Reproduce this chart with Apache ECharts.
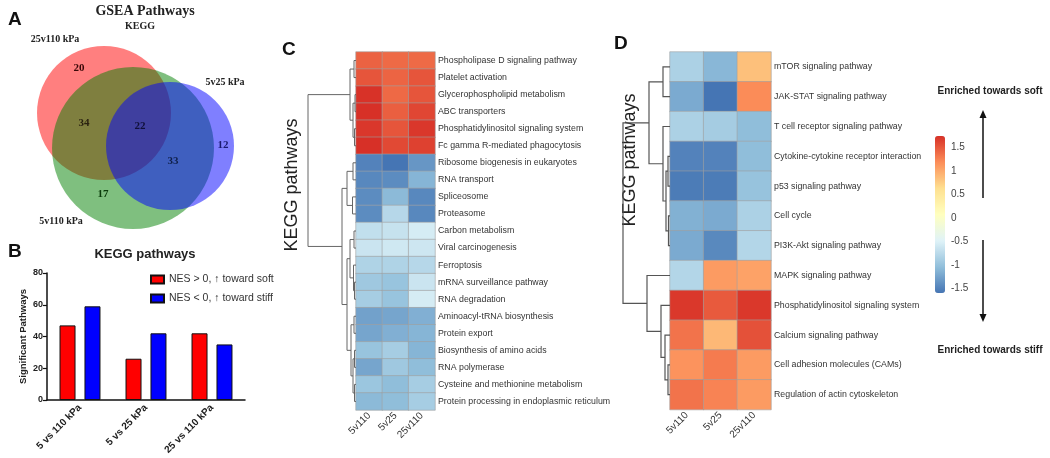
<!DOCTYPE html>
<html><head><meta charset="utf-8">
<script src="https://cdn.jsdelivr.net/npm/echarts@6/dist/echarts.min.js"></script>
<style>html,body{margin:0;padding:0;background:#fff}#c{width:1050px;height:458px}</style>
</head><body><div id="c"></div>
<script>
// ---------- Panel A: Venn (GSEA KEGG pathways) ----------
const vennSetNames = ['25v110 kPa', '5v110 kPa', '5v25 kPa'];
const vennRegionCounts = [20, 34, 22, 12, 33, 17];
// layout of the Venn plane (abstract units of a hidden cartesian plane)
const vennCircleLayout = [[104, 113, 67], [133, 148, 81], [170, 146, 64]];
const vennCountLayout = [[79, 68], [84, 123], [140, 126], [223, 145], [173, 161], [103, 194]];
const vennSetLabelLayout = [[55, 39], [61, 221], [225, 82]];

// ---------- Panel B: bar chart ----------
const barCategories = ['5 vs 110 kPa', '5 vs 25 kPa', '25 vs 110 kPa'];
const nesPositive = [47, 26, 42];
const nesNegative = [59, 42, 35];
const barSeriesNames = ['NES > 0, \u2191 toward soft', 'NES < 0, \u2191 toward stiff'];

// ---------- Panel C: heatmap ----------
const cCols = ['5v110', '5v25', '25v110'];
const cRows = ['Phospholipase D signaling pathway', 'Platelet activation', 'Glycerophospholipid metabolism',
  'ABC transporters', 'Phosphatidylinositol signaling system', 'Fc gamma R-mediated phagocytosis',
  'Ribosome biogenesis in eukaryotes', 'RNA transport', 'Spliceosome', 'Proteasome', 'Carbon metabolism',
  'Viral carcinogenesis', 'Ferroptosis', 'mRNA surveillance pathway', 'RNA degradation',
  'Aminoacyl-tRNA biosynthesis', 'Protein export', 'Biosynthesis of amino acids', 'RNA polymerase',
  'Cysteine and methionine metabolism', 'Protein processing in endoplasmic reticulum'];
const cVal5v110 = [1.45, 1.53, 1.74, 1.75, 1.71, 1.75, -1.5, -1.46, -1.43, -1.43, -0.7, -0.64, -0.83, -0.94, -0.89, -1.27, -1.24, -0.99, -1.24, -0.97, -1.08];
const cVal5v25 = [1.4, 1.44, 1.41, 1.47, 1.53, 1.6, -1.6, -1.43, -1.08, -0.78, -0.67, -0.6, -0.83, -0.99, -0.99, -1.24, -1.16, -0.89, -0.94, -1.05, -1.05];
const cVal25v110 = [1.4, 1.53, 1.53, 1.62, 1.71, 1.65, -1.35, -1.12, -1.46, -1.46, -0.56, -0.62, -0.78, -0.64, -0.56, -1.16, -1.12, -1.12, -1.05, -0.89, -0.89];
// dendrogram merges [nodeA, nodeB, height]; leaves 0..n-1, new nodes n, n+1, ...
const cMerges = [[0, 1, 2], [2, 3, 1], [4, 5, 1.5], [22, 23, 3], [21, 24, 6],
  [6, 7, 3], [8, 9, 3.5], [26, 27, 9],
  [10, 11, 2], [13, 14, 1.5], [12, 30, 2.5], [29, 31, 6],
  [15, 16, 2], [17, 18, 1.5], [19, 20, 1.5], [34, 35, 3], [33, 36, 5], [32, 37, 9],
  [28, 38, 14], [25, 39, 48]];

// ---------- Panel D: heatmap ----------
const dCols = ['5v110', '5v25', '25v110'];
const dRows = ['mTOR signaling pathway', 'JAK-STAT signaling pathway', 'T cell receptor signaling pathway',
  'Cytokine-cytokine receptor interaction', 'p53 signaling pathway', 'Cell cycle', 'PI3K-Akt signaling pathway',
  'MAPK signaling pathway', 'Phosphatidylinositol signaling system', 'Calcium signaling pathway',
  'Cell adhesion molecules (CAMs)', 'Regulation of actin cytoskeleton'];
const dVal5v110 = [-0.85, -1.2, -0.85, -1.5, -1.55, -1.15, -1.2, -0.8, 1.7, 1.35, 1.15, 1.35];
const dVal5v25 = [-1.1, -1.6, -0.9, -1.5, -1.55, -1.2, -1.45, 1.1, 1.5, 0.9, 1.3, 1.25];
const dVal25v110 = [0.85, 1.2, -1.05, -1.05, -1.0, -0.85, -0.8, 1.05, 1.7, 1.55, 1.1, 1.1];
const dMerges = [[0, 1, 7], [3, 4, 2], [5, 6, 1.5], [13, 14, 4], [2, 15, 7], [12, 16, 21],
  [10, 11, 2], [9, 18, 5], [8, 19, 9], [7, 20, 23], [17, 21, 47]];
const colorbarTicks = [-1.5, -1, -0.5, 0, 0.5, 1, 1.5];
const scaleMin = -1.6, scaleMax = 1.75;
const palette = ['#4575B4', '#91BFDB', '#E0F3F8', '#FFFFBF', '#FEE090', '#FC8D59', '#D73027'];

// ---------- helpers ----------
const SANS = 'Liberation Sans, Arial, sans-serif';
const SERIF = 'Liberation Serif, Times New Roman, serif';
function heatData(cols) {
  const out = [];
  cols.forEach((col, ci) => col.forEach((v, ri) => out.push([ci, ri, v])));
  return out;
}
function dendroSegments(n, merges) {
  const pos = [], hts = [];
  for (let i = 0; i < n; i++) { pos.push(i + 0.5); hts.push(0); }
  return merges.map(([a, b, h]) => {
    const seg = [hts[a], pos[a], hts[b], pos[b], h];
    pos.push((pos[a] + pos[b]) / 2); hts.push(h);
    return seg;
  });
}
function dendroRender(color, width) {
  return function (params, api) {
    const hL = api.value(0), yL = api.value(1), hR = api.value(2), yR = api.value(3), h = api.value(4);
    const pts = [[hL, yL], [h, yL], [h, yR], [hR, yR]].map(q => api.coord(q));
    return { type: 'polyline', shape: { points: pts }, style: { stroke: color, lineWidth: width, fill: 'none' } };
  };
}

const chart = echarts.init(document.getElementById('c'), null, { renderer: 'canvas' });
const vennColors = ['#ff0000', '#008000', '#0000ff'];
const vennCountColors = ['#3a0808', '#2a2210', '#10103a', '#1a1a70', '#10204a', '#0a3a0a'];

const option = {
  backgroundColor: '#fff',
  animation: false,
  grid: [
    { left: 0, top: 0, width: 260, height: 240 },          // 0 venn plane
    { left: 47, top: 273, width: 198, height: 127 },       // 1 bars
    { left: 356, top: 52, width: 79, height: 358 },        // 2 heat C
    { left: 308, top: 52, width: 48, height: 358 },        // 3 dendro C
    { left: 670, top: 52, width: 101, height: 357.6 },     // 4 heat D
    { left: 623, top: 52, width: 47, height: 357.6 },      // 5 dendro D
    { left: 935, top: 136, width: 10, height: 157 }        // 6 colorbar axis
  ],
  xAxis: [
    { gridIndex: 0, type: 'value', min: 0, max: 260, show: false },
    { gridIndex: 1, type: 'category', data: barCategories,
      axisLine: { lineStyle: { color: '#111', width: 1.5 } },
      axisTick: { alignWithLabel: true, length: 4, lineStyle: { color: '#111', width: 1.2 } },
      axisLabel: { rotate: 45, interval: 0, fontFamily: SANS, fontWeight: 'bold', fontSize: 10, color: '#222', margin: 6 } },
    { gridIndex: 2, type: 'category', data: cCols, axisLine: { show: false }, axisTick: { show: false },
      axisLabel: { rotate: 45, fontFamily: SANS, fontSize: 10, color: '#333', margin: 4 } },
    { gridIndex: 3, type: 'value', min: 0, max: 48, inverse: true, show: false },
    { gridIndex: 4, type: 'category', data: dCols, axisLine: { show: false }, axisTick: { show: false },
      axisLabel: { rotate: 45, fontFamily: SANS, fontSize: 10, color: '#333', margin: 4 } },
    { gridIndex: 5, type: 'value', min: 0, max: 47, inverse: true, show: false },
    { gridIndex: 6, type: 'value', min: 0, max: 1, show: false }
  ],
  yAxis: [
    { gridIndex: 0, type: 'value', min: 0, max: 240, inverse: true, show: false },
    { gridIndex: 1, type: 'value', min: 0, max: 80, interval: 20,
      axisLine: { show: true, lineStyle: { color: '#111', width: 1.5 } },
      axisTick: { show: true, length: 4, lineStyle: { color: '#111', width: 1.2 } },
      splitLine: { show: false },
      axisLabel: { fontFamily: SANS, fontWeight: 'bold', fontSize: 9, color: '#222', margin: 4 },
      name: 'Significant Pathways', nameLocation: 'middle', nameGap: 19,
      nameTextStyle: { fontFamily: SANS, fontWeight: 'bold', fontSize: 9.5, color: '#222' } },
    { gridIndex: 2, type: 'category', data: cRows, inverse: true, position: 'right',
      axisLine: { show: false }, axisTick: { show: false },
      axisLabel: { fontFamily: SANS, fontSize: 8.8, color: '#333', margin: 3 } },
    { gridIndex: 3, type: 'value', min: 0, max: 21, inverse: true, show: false },
    { gridIndex: 4, type: 'category', data: dRows, inverse: true, position: 'right',
      axisLine: { show: false }, axisTick: { show: false },
      axisLabel: { fontFamily: SANS, fontSize: 8.8, color: '#333', margin: 3 } },
    { gridIndex: 5, type: 'value', min: 0, max: 12, inverse: true, show: false },
    { gridIndex: 6, type: 'value', min: scaleMin, max: scaleMax, position: 'right',
      axisLine: { show: false }, axisTick: { show: false }, splitLine: { show: false },
      axisLabel: { customValues: colorbarTicks, fontFamily: SANS, fontSize: 10, color: '#444', margin: 6 } }
  ],
  visualMap: [
    { type: 'continuous', seriesIndex: 4, show: false, min: scaleMin, max: scaleMax, inRange: { color: palette } },
    { type: 'continuous', seriesIndex: 6, show: true, min: scaleMin, max: scaleMax, inRange: { color: palette },
      left: 935, top: 136, itemWidth: 10, itemHeight: 157, padding: 0, calculable: false, hoverLink: false,
      text: null, showLabel: false }
  ],
  legend: {
    data: barSeriesNames, orient: 'vertical', left: 150, top: 274, itemWidth: 13, itemHeight: 8, itemGap: 8,
    icon: 'rect', textStyle: { fontFamily: SANS, fontSize: 10.5, color: '#333' }, padding: 0
  },
  series: [
    // 0: Venn circles
    { type: 'custom', xAxisIndex: 0, yAxisIndex: 0, silent: true,
      data: vennCircleLayout.map((c, i) => [c[0], c[1], c[2], i]),
      renderItem(params, api) {
        const p = api.coord([api.value(0), api.value(1)]);
        const r = api.size([api.value(2), 0])[0];
        return { type: 'circle', shape: { cx: p[0], cy: p[1], r: r },
          style: { fill: vennColors[api.value(3)], opacity: 0.5 } };
      } },
    // 1: Venn region counts
    { type: 'custom', xAxisIndex: 0, yAxisIndex: 0, silent: true,
      data: vennRegionCounts.map((v, i) => [vennCountLayout[i][0], vennCountLayout[i][1], v, i]),
      renderItem(params, api) {
        const p = api.coord([api.value(0), api.value(1)]);
        return { type: 'text', x: p[0], y: p[1],
          style: { text: String(api.value(2)), font: 'bold 11px ' + SERIF, fill: vennCountColors[api.value(3)],
            align: 'center', verticalAlign: 'middle' } };
      } },
    // 2,3: bars
    { type: 'bar', name: barSeriesNames[0], xAxisIndex: 1, yAxisIndex: 1, data: nesPositive, barWidth: 16, barGap: '56%',
      itemStyle: { color: '#ff0000', borderColor: '#111', borderWidth: 1 } },
    { type: 'bar', name: barSeriesNames[1], xAxisIndex: 1, yAxisIndex: 1, data: nesNegative, barWidth: 16, barGap: '56%',
      itemStyle: { color: '#0000ff', borderColor: '#111', borderWidth: 1 } },
    // 4: heatmap C
    { type: 'heatmap', xAxisIndex: 2, yAxisIndex: 2, data: heatData([cVal5v110, cVal5v25, cVal25v110]),
      itemStyle: { borderColor: '#a0a0a0', borderWidth: 0.6 }, emphasis: { disabled: true } },
    // 5: dendrogram C
    { type: 'custom', xAxisIndex: 3, yAxisIndex: 3, silent: true, data: dendroSegments(21, cMerges),
      renderItem: dendroRender('#666', 1) },
    // 6: heatmap D
    { type: 'heatmap', xAxisIndex: 4, yAxisIndex: 4, data: heatData([dVal5v110, dVal5v25, dVal25v110]),
      itemStyle: { borderColor: '#a0a0a0', borderWidth: 0.6 }, emphasis: { disabled: true } },
    // 7: dendrogram D
    { type: 'custom', xAxisIndex: 5, yAxisIndex: 5, silent: true, data: dendroSegments(12, dMerges),
      renderItem: dendroRender('#555', 1.2) },
    // 8: colorbar axis holder
    { type: 'scatter', xAxisIndex: 6, yAxisIndex: 6, data: [], silent: true }
  ],
  graphic: [
    { type: 'text', x: 8, y: 20, style: { text: 'A', font: 'bold 19px ' + SANS, fill: '#111', verticalAlign: 'middle' } },
    { type: 'text', x: 145, y: 11, style: { text: 'GSEA Pathways', font: 'bold 14px ' + SERIF, fill: '#222', align: 'center', verticalAlign: 'middle' } },
    { type: 'text', x: 140, y: 26, style: { text: 'KEGG', font: 'bold 10px ' + SERIF, fill: '#222', align: 'center', verticalAlign: 'middle' } },
    { type: 'text', x: vennSetLabelLayout[0][0], y: vennSetLabelLayout[0][1], style: { text: vennSetNames[0], font: 'bold 10px ' + SERIF, fill: '#222', align: 'center', verticalAlign: 'middle' } },
    { type: 'text', x: vennSetLabelLayout[1][0], y: vennSetLabelLayout[1][1], style: { text: vennSetNames[1], font: 'bold 10px ' + SERIF, fill: '#222', align: 'center', verticalAlign: 'middle' } },
    { type: 'text', x: vennSetLabelLayout[2][0], y: vennSetLabelLayout[2][1], style: { text: vennSetNames[2], font: 'bold 10px ' + SERIF, fill: '#222', align: 'center', verticalAlign: 'middle' } },
    { type: 'text', x: 8, y: 252, style: { text: 'B', font: 'bold 19px ' + SANS, fill: '#111', verticalAlign: 'middle' } },
    { type: 'text', x: 145, y: 254, style: { text: 'KEGG pathways', font: 'bold 13px ' + SANS, fill: '#222', align: 'center', verticalAlign: 'middle' } },
    { type: 'text', x: 282, y: 50, style: { text: 'C', font: 'bold 19px ' + SANS, fill: '#111', verticalAlign: 'middle' } },
    { type: 'text', x: 292, y: 185, rotation: Math.PI / 2, style: { text: 'KEGG pathways', font: '18px ' + SANS, fill: '#222', align: 'center', verticalAlign: 'middle' } },
    { type: 'text', x: 614, y: 44, style: { text: 'D', font: 'bold 19px ' + SANS, fill: '#111', verticalAlign: 'middle' } },
    { type: 'text', x: 630, y: 160, rotation: Math.PI / 2, style: { text: 'KEGG pathways', font: '18px ' + SANS, fill: '#222', align: 'center', verticalAlign: 'middle' } },
    { type: 'text', x: 990, y: 91, style: { text: 'Enriched towards soft', font: 'bold 10px ' + SANS, fill: '#222', align: 'center', verticalAlign: 'middle' } },
    { type: 'text', x: 990, y: 350, style: { text: 'Enriched towards stiff', font: 'bold 10px ' + SANS, fill: '#222', align: 'center', verticalAlign: 'middle' } },
    { type: 'line', shape: { x1: 983, y1: 198, x2: 983, y2: 116 }, style: { stroke: '#111', lineWidth: 1.5 } },
    { type: 'polygon', shape: { points: [[983, 110], [979.5, 118], [986.5, 118]] }, style: { fill: '#111' } },
    { type: 'line', shape: { x1: 983, y1: 240, x2: 983, y2: 316 }, style: { stroke: '#111', lineWidth: 1.5 } },
    { type: 'polygon', shape: { points: [[983, 322], [979.5, 314], [986.5, 314]] }, style: { fill: '#111' } }
  ]
};
chart.setOption(option);
</script>
</body></html>
